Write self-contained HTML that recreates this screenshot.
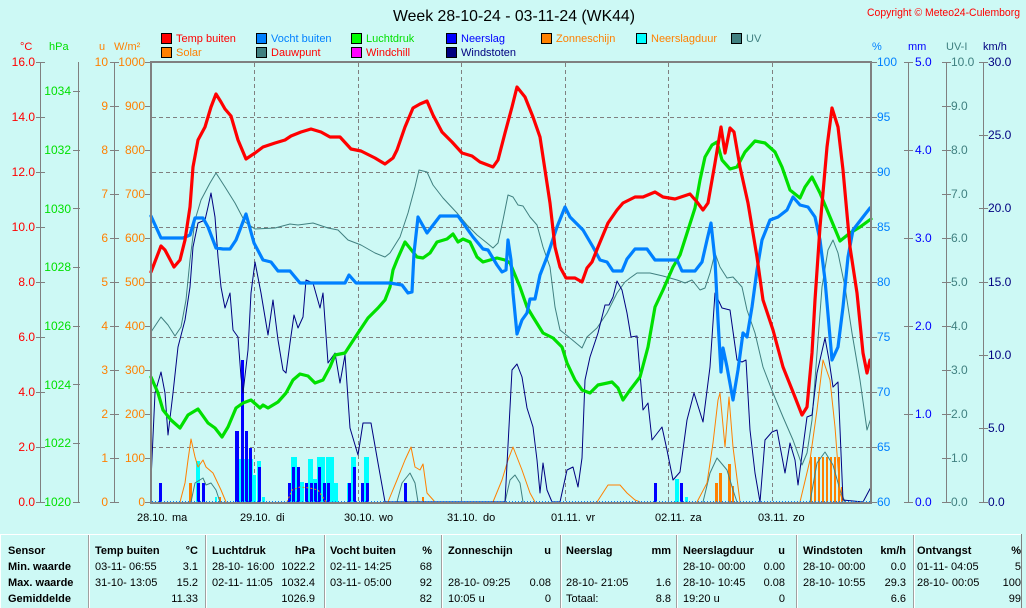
<!DOCTYPE html>
<html><head><meta charset="utf-8"><style>
html,body{margin:0;padding:0;background:#cdf9f5;}
svg{display:block;font-family:"Liberation Sans",sans-serif;}
</style></head><body>
<svg width="1026" height="608" viewBox="0 0 1026 608" xmlns="http://www.w3.org/2000/svg">
<rect x="0" y="0" width="1026" height="608" fill="#cdf9f5"/>
<text x="393" y="21" font-size="16" fill="#000" textLength="242" lengthAdjust="spacingAndGlyphs">Week 28-10-24 - 03-11-24 (WK44)</text>
<text x="867" y="16" font-size="11" fill="#ff0000" textLength="153" lengthAdjust="spacingAndGlyphs">Copyright © Meteo24-Culemborg</text>
<g stroke="#000" stroke-width="1">
<rect x="161.5" y="33.5" width="10" height="10" fill="#ff0000"/>
<rect x="256.5" y="33.5" width="10" height="10" fill="#0080ff"/>
<rect x="351.5" y="33.5" width="10" height="10" fill="#00ff00"/>
<rect x="446.5" y="33.5" width="10" height="10" fill="#0000ff"/>
<rect x="541.5" y="33.5" width="10" height="10" fill="#ff8000"/>
<rect x="636.5" y="33.5" width="10" height="10" fill="#00ffff"/>
<rect x="731.5" y="33.5" width="10" height="10" fill="#408080"/>
<rect x="161.5" y="47.5" width="10" height="10" fill="#ff8000"/>
<rect x="256.5" y="47.5" width="10" height="10" fill="#408080"/>
<rect x="351.5" y="47.5" width="10" height="10" fill="#ff00ff"/>
<rect x="446.5" y="47.5" width="10" height="10" fill="#000080"/>
</g>
<g font-size="11">
<text x="176" y="42" fill="#ff0000">Temp buiten</text>
<text x="271" y="42" fill="#0080ff">Vocht buiten</text>
<text x="366" y="42" fill="#00e000">Luchtdruk</text>
<text x="461" y="42" fill="#0000ff">Neerslag</text>
<text x="556" y="42" fill="#ff8000">Zonneschijn</text>
<text x="651" y="42" fill="#ff8000">Neerslagduur</text>
<text x="746" y="42" fill="#408080">UV</text>
<text x="176" y="56" fill="#ff8000">Solar</text>
<text x="271" y="56" fill="#ff0000">Dauwpunt</text>
<text x="366" y="56" fill="#ff0000">Windchill</text>
<text x="461" y="56" fill="#000080">Windstoten</text>
</g>
<g font-size="11">
<text x="20" y="50" fill="#ff0000">°C</text>
<text x="49" y="50" fill="#00e000">hPa</text>
<text x="99" y="50" fill="#ff8000">u</text>
<text x="114" y="50" fill="#ff8000">W/m²</text>
<text x="872" y="50" fill="#0080ff">%</text>
<text x="908" y="50" fill="#0000ff">mm</text>
<text x="946" y="50" fill="#408080">UV-I</text>
<text x="983" y="50" fill="#000080">km/h</text>
</g>
<g stroke="#808080" stroke-width="1" shape-rendering="crispEdges" fill="none">
<line x1="40.5" y1="62" x2="40.5" y2="503"/>
<line x1="78.5" y1="62" x2="78.5" y2="503"/>
<line x1="114.5" y1="62" x2="114.5" y2="503"/>
<line x1="908.5" y1="62" x2="908.5" y2="503"/>
<line x1="946.5" y1="62" x2="946.5" y2="503"/>
<line x1="983.5" y1="62" x2="983.5" y2="503"/>
<path d="M36 62.5H45M36 117.5H45M36 172.5H45M36 227.5H45M36 282.5H45M36 337.5H45M36 392.5H45M36 447.5H45M36 502.5H45"/>
<path d="M73 91.5H80M73 150.5H80M73 208.5H80M73 267.5H80M73 326.5H80M73 384.5H80M73 443.5H80M73 502.5H80"/>
<path d="M110 62.5H119M110 106.5H119M110 150.5H119M110 194.5H119M110 238.5H119M110 282.5H119M110 326.5H119M110 370.5H119M110 414.5H119M110 458.5H119M110 502.5H119"/>
<path d="M145 62.5H151M145 106.5H151M145 150.5H151M145 194.5H151M145 238.5H151M145 282.5H151M145 326.5H151M145 370.5H151M145 414.5H151M145 458.5H151M145 502.5H151"/>
<path d="M871 62.5H877M871 117.5H877M871 172.5H877M871 227.5H877M871 282.5H877M871 337.5H877M871 392.5H877M871 447.5H877M871 502.5H877"/>
<path d="M904 62.5H913M904 150.5H913M904 238.5H913M904 326.5H913M904 414.5H913M904 502.5H913"/>
<path d="M942 62.5H951M942 106.5H951M942 150.5H951M942 194.5H951M942 238.5H951M942 282.5H951M942 326.5H951M942 370.5H951M942 414.5H951M942 458.5H951M942 502.5H951"/>
<path d="M979 62.5H988M979 135.5H988M979 208.5H988M979 282.5H988M979 355.5H988M979 428.5H988M979 502.5H988"/>
</g>
<g font-size="12" fill="#ff0000" text-anchor="end">
<text x="35" y="66">16.0</text><text x="35" y="121">14.0</text><text x="35" y="176">12.0</text><text x="35" y="231">10.0</text><text x="35" y="286">8.0</text><text x="35" y="341">6.0</text><text x="35" y="396">4.0</text><text x="35" y="451">2.0</text><text x="35" y="506">0.0</text>
</g>
<g font-size="12" fill="#00e000" text-anchor="end">
<text x="71" y="95">1034</text><text x="71" y="154">1032</text><text x="71" y="213">1030</text><text x="71" y="271">1028</text><text x="71" y="330">1026</text><text x="71" y="389">1024</text><text x="71" y="447">1022</text><text x="71" y="506">1020</text>
</g>
<g font-size="12" fill="#ff8000" text-anchor="end">
<text x="108" y="66">10</text><text x="108" y="110">9</text><text x="108" y="154">8</text><text x="108" y="198">7</text><text x="108" y="242">6</text><text x="108" y="286">5</text><text x="108" y="330">4</text><text x="108" y="374">3</text><text x="108" y="418">2</text><text x="108" y="462">1</text><text x="108" y="506">0</text>
<text x="145" y="66">1000</text><text x="145" y="110">900</text><text x="145" y="154">800</text><text x="145" y="198">700</text><text x="145" y="242">600</text><text x="145" y="286">500</text><text x="145" y="330">400</text><text x="145" y="374">300</text><text x="145" y="418">200</text><text x="145" y="462">100</text><text x="145" y="506">0</text>
</g>
<g font-size="12" fill="#0080ff">
<text x="877" y="66">100</text><text x="877" y="121">95</text><text x="877" y="176">90</text><text x="877" y="231">85</text><text x="877" y="286">80</text><text x="877" y="341">75</text><text x="877" y="396">70</text><text x="877" y="451">65</text><text x="877" y="506">60</text>
</g>
<g font-size="12" fill="#0000ff">
<text x="915" y="66">5.0</text><text x="915" y="154">4.0</text><text x="915" y="242">3.0</text><text x="915" y="330">2.0</text><text x="915" y="418">1.0</text><text x="915" y="506">0.0</text>
</g>
<g font-size="12" fill="#408080">
<text x="951" y="66">10.0</text><text x="951" y="110">9.0</text><text x="951" y="154">8.0</text><text x="951" y="198">7.0</text><text x="951" y="242">6.0</text><text x="951" y="286">5.0</text><text x="951" y="330">4.0</text><text x="951" y="374">3.0</text><text x="951" y="418">2.0</text><text x="951" y="462">1.0</text><text x="951" y="506">0.0</text>
</g>
<g font-size="12" fill="#000080">
<text x="988" y="66">30.0</text><text x="988" y="139">25.0</text><text x="988" y="212">20.0</text><text x="988" y="286">15.0</text><text x="988" y="359">10.0</text><text x="988" y="432">5.0</text><text x="988" y="506">0.0</text>
</g>
<g stroke="#808080" stroke-width="1" stroke-dasharray="4,3" shape-rendering="crispEdges">
<path d="M152 117.5H870M152 172.5H870M152 227.5H870M152 282.5H870M152 337.5H870M152 392.5H870M152 447.5H870"/>
<path d="M254.5 63V502M358.5 63V502M461.5 63V502M565.5 63V502M668.5 63V502M772.5 63V502"/>
</g>
<g shape-rendering="crispEdges">
<g fill="#00ffff">
<rect x="196" y="461" width="4" height="41"/><rect x="215" y="497" width="2" height="5"/>
<rect x="239" y="459" width="14" height="43"/><rect x="253" y="475" width="3" height="27"/><rect x="257" y="461" width="4" height="41"/><rect x="262" y="497" width="3" height="5"/>
<rect x="291" y="457" width="6" height="45"/><rect x="300" y="482" width="4" height="20"/><rect x="308" y="459" width="5" height="43"/><rect x="313" y="479" width="4" height="23"/>
<rect x="317" y="457" width="8" height="45"/><rect x="326" y="457" width="8" height="45"/><rect x="334" y="483" width="4" height="19"/>
<rect x="347" y="483" width="4" height="19"/><rect x="351" y="457" width="5" height="45"/><rect x="361" y="483" width="4" height="19"/><rect x="364" y="457" width="5" height="45"/>
<rect x="675" y="479" width="4" height="23"/><rect x="685" y="497" width="3" height="5"/>
</g>
<g fill="#0000ff">
<rect x="159" y="483" width="3" height="19"/><rect x="197" y="483" width="3" height="19"/><rect x="202" y="483" width="3" height="19"/>
<rect x="235" y="431" width="4" height="71"/><rect x="241" y="360" width="3" height="142"/><rect x="245" y="431" width="3" height="71"/><rect x="249" y="448" width="3" height="54"/><rect x="258" y="467" width="3" height="35"/>
<rect x="288" y="483" width="3" height="19"/><rect x="292" y="467" width="3" height="35"/><rect x="297" y="467" width="3" height="35"/><rect x="305" y="483" width="3" height="19"/><rect x="310" y="483" width="3" height="19"/><rect x="314" y="483" width="3" height="19"/>
<rect x="318" y="467" width="3" height="35"/><rect x="323" y="483" width="3" height="19"/><rect x="327" y="483" width="3" height="19"/><rect x="348" y="483" width="3" height="19"/><rect x="353" y="467" width="3" height="35"/><rect x="361" y="483" width="3" height="19"/><rect x="366" y="483" width="3" height="19"/>
<rect x="404" y="483" width="3" height="19"/><rect x="654" y="483" width="3" height="19"/><rect x="680" y="483" width="3" height="19"/>
</g>
<g fill="#ff8000">
<rect x="189" y="483" width="3" height="19"/><rect x="219" y="497" width="2" height="5"/><rect x="422" y="497" width="2" height="5"/>
<rect x="715" y="483" width="3" height="19"/><rect x="719" y="473" width="3" height="29"/><rect x="728" y="464" width="3" height="38"/><rect x="732" y="486" width="2" height="16"/>
<rect x="810" y="457" width="2" height="45"/><rect x="814" y="457" width="2" height="45"/><rect x="818" y="457" width="2" height="45"/><rect x="822" y="457" width="2" height="45"/><rect x="826" y="457" width="2" height="45"/><rect x="830" y="457" width="2" height="45"/><rect x="834" y="457" width="2" height="45"/><rect x="838" y="457" width="2" height="45"/><rect x="841" y="487" width="2" height="15"/>
</g>
</g>
<g fill="none" stroke-width="1" stroke-linejoin="round">
<polyline stroke="#408080" points="191,502 195,483 203,478 206,485 211,483 216,490 220,502"/>
<polyline stroke="#408080" points="397,502 402,483 410,473 415,483 418,502"/>
<polyline stroke="#408080" points="505,502 510,480 515,475 520,483 523,502"/>
<polyline stroke="#408080" points="703,502 710,473 717,458 727,470 733,490 737,502"/>
<polyline stroke="#408080" points="810,502 817,463 825,452 833,465 840,490 845,502"/>
<polyline stroke="#ff8000" points="180,502 185,483 188,460 191,439 195,457 198,467 203,460 206,467 213,473 221,490 226,502"/>
<polyline stroke="#ff8000" stroke-dasharray="2,2" points="287,502 292,490 300,487 310,488 318,490 326,502"/>
<polyline stroke="#ff8000" points="388,502 390,497 397,480 405,460 411,447 415,467 420,470 423,464 427,493 435,502"/>
<polyline stroke="#ff8000" points="493,502 502,480 508,460 513,447 522,470 530,493 535,502"/>
<polyline stroke="#ff8000" points="597,502 608,485 620,485 627,493 635,500 640,502"/>
<polyline stroke="#ff8000" points="697,502 707,483 713,443 718,400 720,393 725,447 729,397 733,447 740,502"/>
<polyline stroke="#ff8000" points="800,502 810,460 817,410 823,360 830,380 835,427 840,493 843,502"/>
<polyline stroke="#408080" points="151,332 161,317 168,325 175,336 181,327 186,300 190,260 195,220 201,200 210,183 216,173 225,187 235,203 245,222 255,229 275,228 290,224 298,225 313,223 328,228 338,230 348,240 361,245 375,253 385,257 390,253 400,237 408,213 415,187 419,170 427,172 433,185 443,198 457,213 467,225 477,235 487,243 493,248 498,243 503,220 508,195 513,197 518,205 523,206 530,217 537,225 543,247 550,267 555,307 560,330 570,338 582,348 587,337 597,328 607,313 617,293 625,282 630,278 637,273 650,273 663,276 677,280 685,283 692,280 700,290 705,288 710,273 715,253 720,267 727,278 733,277 742,287 747,310 755,333 763,367 773,393 783,417 793,440 802,465 807,453 812,420 817,353 822,287 828,250 833,240 838,253 845,287 852,333 860,380 867,430 871,418"/>
<polyline stroke="#000080" points="151,480 155,393 161,372 165,393 168,435 173,393 178,347 185,320 190,287 193,247 198,223 205,220 208,207 211,193 215,217 218,257 221,287 225,308 230,293 233,330 238,337 241,377 243,393 248,350 251,293 255,262 261,293 268,335 273,300 278,340 283,370 286,373 290,343 294,315 298,328 303,317 306,280 313,283 320,308 323,293 328,363 335,353 340,383 345,355 350,428 358,455 363,423 371,423 378,463 385,502 505,502 512,370 517,364 522,377 527,408 533,427 537,460 540,493 543,463 547,490 552,502 560,502 567,470 573,467 578,487 582,458 585,380 590,357 598,333 605,305 609,305 613,297 617,281 622,290 627,313 631,337 637,336 640,373 643,410 648,403 652,440 662,427 667,450 673,480 680,472 687,420 694,393 703,422 710,367 715,293 722,308 730,310 737,360 742,362 746,360 750,430 755,473 760,502 765,440 772,432 777,430 785,473 790,443 795,460 798,485 803,447 807,417 812,415 817,373 825,338 829,360 833,387 838,382 843,500 863,502 871,487"/>
</g>
<line x1="152" y1="501.5" x2="870" y2="501.5" stroke="#0080ff" stroke-width="1" stroke-dasharray="1,2"/>
<g fill="none" stroke-width="3.2" stroke-linejoin="round" stroke-linecap="round">
<polyline stroke="#00e000" points="151,377 158,393 163,410 171,420 180,428 188,415 198,409 208,423 215,428 222,437 228,427 236,408 243,403 251,400 260,408 263,405 268,408 278,402 286,393 293,380 300,374 308,376 315,383 323,380 330,367 335,355 345,353 358,333 368,318 378,308 385,300 390,287 393,270 397,260 405,242 417,257 423,258 430,253 437,242 447,239 453,234 458,242 463,239 470,242 477,257 483,262 490,260 497,258 505,260 510,263 520,287 527,307 533,317 543,333 553,338 562,347 567,363 575,380 582,390 590,393 598,385 612,382 618,388 623,400 630,390 640,377 648,347 655,307 663,290 673,267 680,255 688,230 695,208 700,180 705,157 712,145 717,142 722,160 730,169 737,167 745,152 755,141 765,143 775,152 782,167 790,190 800,198 805,187 812,177 820,193 830,217 840,241 850,233 860,227 871,219"/>
<polyline stroke="#0080ff" points="151,216 161,238 183,238 190,235 195,218 203,218 208,227 216,248 223,249 230,249 236,240 246,214 254,243 263,260 271,262 278,271 290,271 300,283 345,283 349,275 356,283 390,283 402,285 408,293 412,292 414,253 418,217 427,233 440,216 458,216 463,223 473,237 483,249 488,250 497,265 502,272 506,270 508,240 511,260 513,293 517,334 522,320 527,313 530,299 535,299 540,275 547,257 557,227 565,207 570,217 583,230 593,247 600,260 607,262 613,271 622,271 627,259 635,249 647,249 655,260 677,260 682,271 695,271 702,262 707,240 711,223 715,260 718,320 721,372 723,348 727,367 733,400 738,370 743,333 747,337 752,307 757,270 762,240 770,220 778,217 787,210 793,197 800,205 808,207 815,217 820,240 825,280 832,360 838,347 843,307 848,257 853,230 863,217 870,208"/>
<polyline stroke="#ff0000" points="151,272 161,246 165,250 174,267 180,260 185,240 190,207 193,167 198,140 205,127 211,107 216,94 221,102 225,109 231,116 238,140 246,159 255,153 263,147 275,143 285,140 291,136 301,132 311,129 321,132 330,137 340,137 351,149 361,151 375,158 385,164 393,158 397,150 405,127 413,108 420,104 427,101 433,115 442,132 452,142 462,153 472,156 480,162 493,167 498,160 505,133 512,107 517,87 525,97 533,117 540,137 545,170 550,203 555,247 560,267 566,278 575,278 582,282 587,268 592,262 598,247 608,223 617,210 623,203 635,197 643,197 655,192 663,197 675,199 690,194 697,202 703,210 708,203 715,163 721,127 725,153 730,128 734,132 740,167 748,203 757,257 763,300 773,330 783,367 793,392 802,415 807,407 812,353 815,300 820,227 827,147 832,108 838,127 843,170 850,247 857,293 863,353 867,373 870,360"/>
</g>
<g fill="#808080" shape-rendering="crispEdges">
<rect x="150" y="61" width="722" height="2"/>
<rect x="150" y="61" width="2" height="443"/>
<rect x="870" y="61" width="2" height="443"/>
<rect x="150" y="502" width="722" height="2"/>
</g>
<g font-size="11" fill="#000">
<text x="137" y="521">28.10.</text><text x="172" y="521">ma</text>
<text x="240" y="521">29.10.</text><text x="276" y="521">di</text>
<text x="344" y="521">30.10.</text><text x="379" y="521">wo</text>
<text x="447" y="521">31.10.</text><text x="483" y="521">do</text>
<text x="551" y="521">01.11.</text><text x="586" y="521">vr</text>
<text x="655" y="521">02.11.</text><text x="690" y="521">za</text>
<text x="758" y="521">03.11.</text><text x="793" y="521">zo</text>
</g>
<g shape-rendering="crispEdges">
<rect x="0" y="534" width="1022" height="1" fill="#ffffff"/>
<rect x="0" y="534" width="1" height="74" fill="#ffffff"/>
<rect x="1021" y="534" width="1" height="74" fill="#808080"/>
<g fill="#a0a0a0">
<rect x="88" y="535" width="1" height="73"/><rect x="205" y="535" width="1" height="73"/><rect x="324" y="535" width="1" height="73"/><rect x="441" y="535" width="1" height="73"/><rect x="560" y="535" width="1" height="73"/><rect x="676" y="535" width="1" height="73"/><rect x="796" y="535" width="1" height="73"/><rect x="913" y="535" width="1" height="73"/>
</g>
<g fill="#ffffff">
<rect x="89" y="535" width="1" height="73"/><rect x="206" y="535" width="1" height="73"/><rect x="325" y="535" width="1" height="73"/><rect x="442" y="535" width="1" height="73"/><rect x="561" y="535" width="1" height="73"/><rect x="677" y="535" width="1" height="73"/><rect x="797" y="535" width="1" height="73"/><rect x="914" y="535" width="1" height="73"/>
</g>
</g>
<g font-size="11" fill="#000">
<g font-weight="bold">
<text x="8" y="554">Sensor</text><text x="8" y="570">Min. waarde</text><text x="8" y="586">Max. waarde</text><text x="8" y="602">Gemiddelde</text>
<text x="95" y="554">Temp buiten</text><text x="198" y="554" text-anchor="end">°C</text>
<text x="212" y="554">Luchtdruk</text><text x="315" y="554" text-anchor="end">hPa</text>
<text x="330" y="554">Vocht buiten</text><text x="432" y="554" text-anchor="end">%</text>
<text x="448" y="554">Zonneschijn</text><text x="551" y="554" text-anchor="end">u</text>
<text x="566" y="554">Neerslag</text><text x="671" y="554" text-anchor="end">mm</text>
<text x="683" y="554">Neerslagduur</text><text x="785" y="554" text-anchor="end">u</text>
<text x="803" y="554">Windstoten</text><text x="906" y="554" text-anchor="end">km/h</text>
<text x="917" y="554">Ontvangst</text><text x="1021" y="554" text-anchor="end">%</text>
</g>
<text x="95" y="570">03-11- 06:55</text><text x="198" y="570" text-anchor="end">3.1</text>
<text x="95" y="586">31-10- 13:05</text><text x="198" y="586" text-anchor="end">15.2</text>
<text x="198" y="602" text-anchor="end">11.33</text>
<text x="212" y="570">28-10- 16:00</text><text x="315" y="570" text-anchor="end">1022.2</text>
<text x="212" y="586">02-11- 11:05</text><text x="315" y="586" text-anchor="end">1032.4</text>
<text x="315" y="602" text-anchor="end">1026.9</text>
<text x="330" y="570">02-11- 14:25</text><text x="432" y="570" text-anchor="end">68</text>
<text x="330" y="586">03-11- 05:00</text><text x="432" y="586" text-anchor="end">92</text>
<text x="432" y="602" text-anchor="end">82</text>
<text x="448" y="586">28-10- 09:25</text><text x="551" y="586" text-anchor="end">0.08</text>
<text x="448" y="602">10:05 u</text><text x="551" y="602" text-anchor="end">0</text>
<text x="566" y="586">28-10- 21:05</text><text x="671" y="586" text-anchor="end">1.6</text>
<text x="566" y="602">Totaal:</text><text x="671" y="602" text-anchor="end">8.8</text>
<text x="683" y="570">28-10- 00:00</text><text x="785" y="570" text-anchor="end">0.00</text>
<text x="683" y="586">28-10- 10:45</text><text x="785" y="586" text-anchor="end">0.08</text>
<text x="683" y="602">19:20 u</text><text x="785" y="602" text-anchor="end">0</text>
<text x="803" y="570">28-10- 00:00</text><text x="906" y="570" text-anchor="end">0.0</text>
<text x="803" y="586">28-10- 10:55</text><text x="906" y="586" text-anchor="end">29.3</text>
<text x="906" y="602" text-anchor="end">6.6</text>
<text x="917" y="570">01-11- 04:05</text><text x="1021" y="570" text-anchor="end">5</text>
<text x="917" y="586">28-10- 00:05</text><text x="1021" y="586" text-anchor="end">100</text>
<text x="1021" y="602" text-anchor="end">99</text>
</g>
</svg>
</body></html>
